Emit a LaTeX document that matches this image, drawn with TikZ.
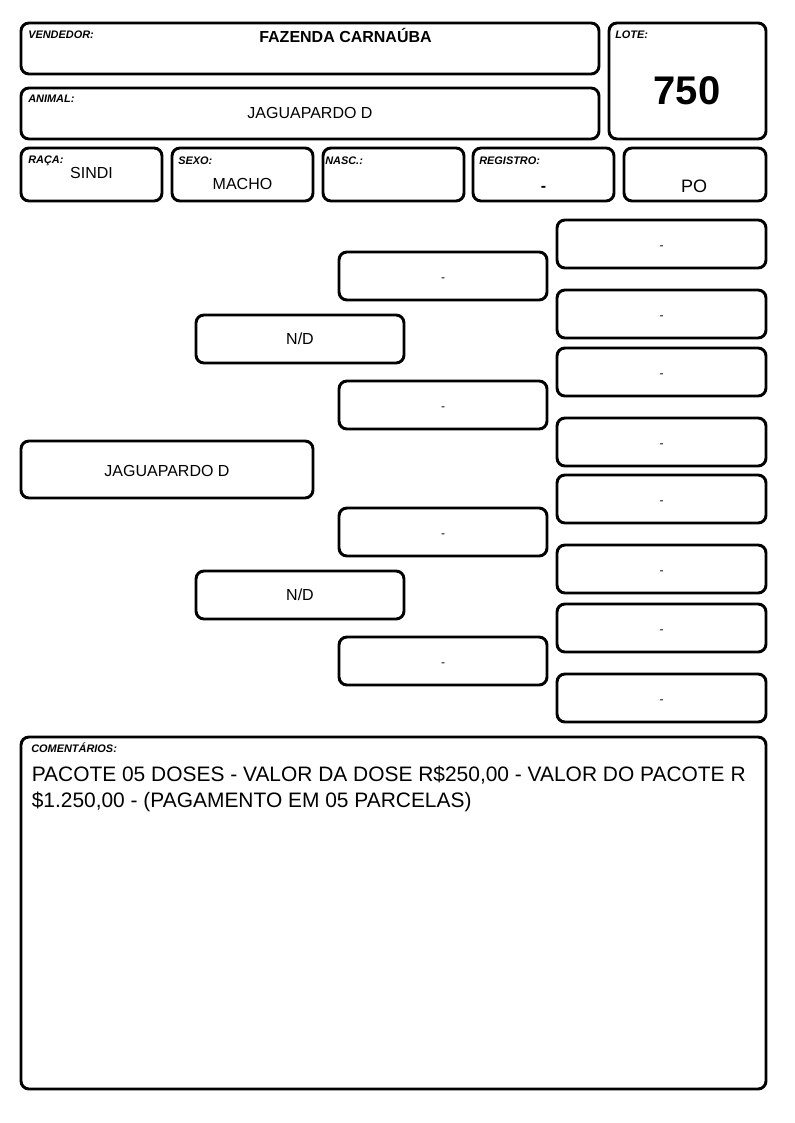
\documentclass[tikz,border=0pt]{standalone}
\usepackage{fontspec}
\setmainfont{Liberation Sans}
\usetikzlibrary{fit}

\tikzset{
	caixa/.style={draw=black, line width=2.2pt, rounded corners=6pt, inner sep=0pt},
	rotulo/.style={anchor=base west, inner sep=0pt, font=\bfseries\itshape\fontsize{8.2}{10}\selectfont},
	valor/.style={anchor=base, inner sep=0pt, font=\fontsize{12}{14}\selectfont},
	traco/.style={inner sep=0pt, yshift=-3pt, font=\fontsize{9}{10}\selectfont},
	linha/.style={anchor=base west, inner sep=0pt, font=\fontsize{15.7}{19}\selectfont}
}

\begin{document}
\begin{tikzpicture}[x=0.75pt, y=-0.75pt]
	\useasboundingbox (0,0) rectangle (794,1123);
	% cabecalho
	\node[caixa, fit={(21,23) (599,74)}] (vendedor) {};
	\node[caixa, fit={(21,88) (599,139)}] (animal) {};
	\node[caixa, fit={(609,23) (766,139)}] (lote) {};
	\node[caixa, fit={(21,148) (162,201)}] (raca) {};
	\node[caixa, fit={(172,148) (313,201)}] (sexo) {};
	\node[caixa, fit={(323,148) (464,201)}] (nasc) {};
	\node[caixa, fit={(473,148) (614,201)}] (registro) {};
	\node[caixa, fit={(624,148) (766,201)}] (grau) {};
	\node[rotulo] (tvendedor) at (28,39) {VENDEDOR:};
	\node[rotulo] (tanimal) at (28,103) {ANIMAL:};
	\node[rotulo] (tlote) at (615,39) {LOTE:};
	\node[rotulo] (traca) at (28,164) {RAÇA:};
	\node[rotulo] (tsexo) at (178,165) {SEXO:};
	\node[rotulo] (tnasc) at (325,165) {NASC.:};
	\node[rotulo] (tregistro) at (479,165) {REGISTRO:};
	\node[valor, font=\bfseries\fontsize{12}{14}\selectfont] (vvendedor) at (345.5,43) {FAZENDA CARNAÚBA};
	\node[valor] (vanimal) at (310,119) {JAGUAPARDO D};
	\node[valor, font=\bfseries\fontsize{30}{34}\selectfont] (vlote) at (687,105) {750};
	\node[valor] (vraca) at (91.5,178.5) {SINDI};
	\node[valor] (vsexo) at (242.5,190) {MACHO};
	\node[valor, font=\bfseries\fontsize{12}{14}\selectfont] (vregistro) at (543.5,192) {-};
	\node[valor, font=\fontsize{13.5}{15}\selectfont] (vgrau) at (694,193) {PO};
	% genealogia
	\node[caixa, fit={(21,441) (313,498)}] (pai0) {};
	\node[valor, anchor=center] at ([yshift=-1pt]pai0) {JAGUAPARDO D};
	\node[caixa, fit={(196,315) (404,363)}] (pai1) {};
	\node[valor, anchor=center] at (pai1) {N/D};
	\node[caixa, fit={(196,571) (404,619)}] (pai2) {};
	\node[valor, anchor=center] at (pai2) {N/D};
	\foreach \n/\y in {1/252, 2/381, 3/508, 4/637}{
		\node[caixa, fit={(339,\y) (547,\y+48)}] (avo\n) {};
		\node[traco] at (avo\n) {-};
	}
	\foreach \n/\y in {1/220, 2/290, 3/348, 4/418, 5/475, 6/545, 7/604, 8/674}{
		\node[caixa, fit={(557,\y) (766,\y+48)}] (bisavo\n) {};
		\node[traco] at (bisavo\n) {-};
	}
	% comentarios
	\node[caixa, fit={(21,737) (766,1089)}] (coment) {};
	\node[rotulo] (tcoment) at (31,752.5) {COMENTÁRIOS:};
	\node[linha] (vcoment1) at (31.5,781.5) {PACOTE 05 DOSES - VALOR DA DOSE R\$250,00 - VALOR DO PACOTE R};
	\node[linha] (vcoment2) at (31.5,807.5) {\$1.250,00 - (PAGAMENTO EM 05 PARCELAS)};
\end{tikzpicture}
\end{document}
